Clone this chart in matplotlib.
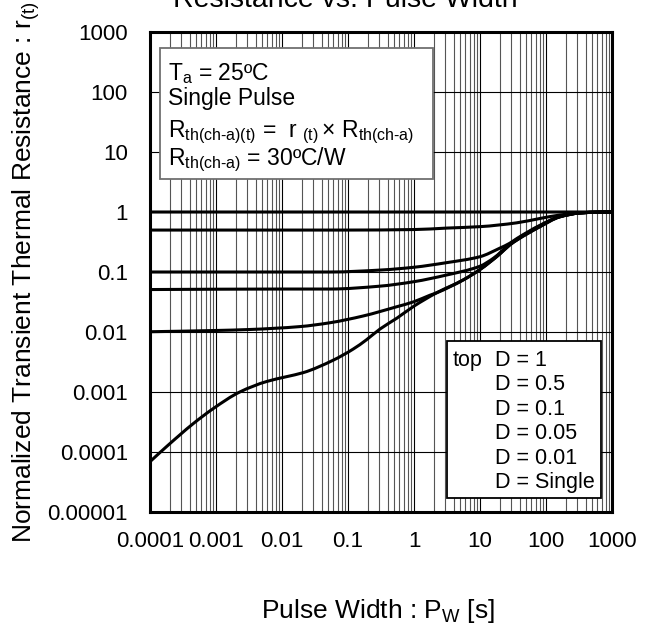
import matplotlib
matplotlib.use('Agg')
import numpy as np
import matplotlib.pyplot as plt
from matplotlib.patches import Rectangle, PathPatch
from matplotlib.path import Path
from matplotlib.ticker import LogLocator, NullLocator

plt.rcParams['font.family'] = ['Liberation Sans', 'DejaVu Sans']
plt.rcParams['mathtext.fontset'] = 'custom'
plt.rcParams['mathtext.rm'] = 'Liberation Sans'
plt.rcParams['mathtext.it'] = 'Liberation Sans'
plt.rcParams['mathtext.bf'] = 'Liberation Sans'
plt.rcParams['mathtext.default'] = 'regular'

# ---------------- data ----------------
x_d1 = [1e-4, 1000]
r_d1 = [1.0, 1.0]

x_d05 = [1e-4, 0.1, 1, 3.2, 10, 36, 81, 162, 330, 630, 1000]
r_d05 = [0.5, 0.5, 0.51, 0.54, 0.57, 0.66, 0.78, 0.89, 0.965, 0.995, 1.0]

x_d01 = [1e-4, 0.054, 0.32, 1, 3.1, 10, 20, 28, 36, 81, 162, 330, 630, 1000]
r_d01 = [0.1, 0.1, 0.108, 0.12, 0.143, 0.18, 0.25, 0.30, 0.36, 0.60, 0.84, 0.965, 0.995, 1.0]

x_d005 = [1e-4, 0.01, 0.054, 0.30, 1, 3.1, 10, 16, 28, 36, 81, 162, 330, 630, 1000]
r_d005 = [0.051, 0.052, 0.052, 0.058, 0.069, 0.089, 0.125, 0.17, 0.29, 0.35, 0.59, 0.84, 0.965, 0.995, 1.0]

x_d001 = [1e-4, 1e-3, 3.2e-3, 0.0186, 0.054, 0.17, 0.55, 1, 1.74, 2.2, 5.6, 10, 20, 28, 36, 81, 162, 330, 630, 1000]
r_d001 = [0.0101, 0.0106, 0.011, 0.0123, 0.0143, 0.0185, 0.0264, 0.032, 0.041, 0.045, 0.074, 0.11, 0.2, 0.28, 0.34, 0.57, 0.83, 0.965, 0.995, 1.0]

x_single = [1e-4, 1.78e-4, 4.57e-4, 9.1e-4, 2.29e-3, 5.9e-3, 0.0117, 0.0209, 0.060, 0.120,
            0.19, 0.305, 0.55, 1, 2.2, 5.6, 10, 20, 28, 36, 81, 162, 330, 630, 1000]
r_single = [6.9e-5, 1.23e-4, 3.0e-4, 5.3e-4, 1.0e-3, 1.5e-3, 1.8e-3, 2.1e-3, 3.4e-3, 5.2e-3,
            7.4e-3, 0.0112, 0.017, 0.027, 0.045, 0.074, 0.11, 0.2, 0.28, 0.34, 0.57, 0.83, 0.965, 0.995, 1.0]

xticks = [1e-4, 1e-3, 1e-2, 1e-1, 1, 10, 100, 1000]
xtick_labels = ['0.0001', '0.001', '0.01', '0.1', '1', '10', '100', '1000']
yticks = [1e-5, 1e-4, 1e-3, 1e-2, 1e-1, 1, 10, 100, 1000]
ytick_labels = ['0.00001', '0.0001', '0.001', '0.01', '0.1', '1', '10', '100', '1000']

legend_lines = ['D = 1', 'D = 0.5', 'D = 0.1', 'D = 0.05', 'D = 0.01', 'D = Single']


def smooth_path(xs, ys):
    """Smooth (monotone cubic) Bezier path through the points, built in log space."""
    lx = np.log10(np.asarray(xs, float))
    ly = np.log10(np.asarray(ys, float))
    n = len(lx)
    h = np.diff(lx)
    d = np.diff(ly) / h
    m = np.zeros(n)
    m[0] = d[0]
    m[-1] = d[-1]
    for k in range(1, n - 1):
        if d[k - 1] * d[k] <= 0:
            m[k] = 0.0
        else:
            w1 = 2 * h[k] + h[k - 1]
            w2 = h[k] + 2 * h[k - 1]
            m[k] = (w1 + w2) / (w1 / d[k - 1] + w2 / d[k])
    verts = [(lx[0], ly[0])]
    codes = [Path.MOVETO]
    for k in range(n - 1):
        verts += [(lx[k] + h[k] / 3, ly[k] + m[k] * h[k] / 3),
                  (lx[k + 1] - h[k] / 3, ly[k + 1] - m[k + 1] * h[k] / 3),
                  (lx[k + 1], ly[k + 1])]
        codes += [Path.CURVE4] * 3
    verts = 10 ** np.asarray(verts)
    return Path(verts, codes)


# ---------------- figure ----------------
W, H = 647, 628
fig = plt.figure(figsize=(W / 100, H / 100), dpi=100)
ax = fig.add_axes([150 / W, 1 - 512 / H, 462 / W, 480 / H])

ax.set_xscale('log')
ax.set_yscale('log')
ax.set_xlim(1e-4, 1000)
ax.set_ylim(1e-5, 1000)

series = [(x_d1, r_d1), (x_d05, r_d05), (x_d01, r_d01), (x_d005, r_d005),
          (x_d001, r_d001), (x_single, r_single)]
for xs, ys in series:
    ax.add_patch(PathPatch(smooth_path(xs, ys), fill=False, ec='black', lw=2.2,
                           joinstyle='round', capstyle='butt', zorder=3))

ax.set_xticks(xticks, xtick_labels)
ax.set_yticks(yticks, ytick_labels)
ax.xaxis.set_minor_locator(LogLocator(base=10, subs=[2, 3, 4, 5, 6, 7, 8, 9], numticks=20))
ax.yaxis.set_minor_locator(NullLocator())
ax.xaxis.set_minor_formatter(plt.NullFormatter())
ax.grid(which='major', axis='both', color='black', lw=0.8, zorder=1)
ax.grid(which='minor', axis='x', color='#555555', lw=0.8, zorder=1)
ax.set_axisbelow(True)
ax.tick_params(which='both', length=0, labelsize=16)
ax.tick_params(axis='x', pad=14)
ax.tick_params(axis='y', pad=16)
for sp in ax.spines.values():
    sp.set_linewidth(2.2)
    sp.set_zorder(4)


# ---- info box ----
def px(x, y):
    return x / W, 1 - y / H


bx0, by0, bx1, by1 = 160, 48, 433, 179
fig.add_artist(Rectangle(px(bx0, by1), (bx1 - bx0) / W, (by1 - by0) / H,
                         transform=fig.transFigure, fc='white', ec='#707070', lw=1.3, zorder=5))
info = [
    (80, 'T$_{a}$ = 25ºC'),
    (105, 'Single Pulse'),
    (136.7, r'R$_{\text{th(ch-a)(t)}}$ =  r$_{\ \,(t)}$$\,$× R$_{\text{th(ch-a)}}$'),
    (165, r'R$_{\text{th(ch-a)}}$ = 30ºC/W'),
]
for yb, t in info:
    fig.text(*px(168, yb), t, fontsize=16.5, ha='left', va='baseline', zorder=6)

# ---- legend box ----
lx0, ly0, lx1, ly1 = 447, 341, 601, 498
fig.add_artist(Rectangle(px(lx0, ly1), (lx1 - lx0) / W, (ly1 - ly0) / H,
                         transform=fig.transFigure, fc='white', ec='black', lw=1.3, zorder=5))
fig.text(*px(453, 366), 'top', fontsize=15.5, ha='left', va='baseline', zorder=6)
for i, t in enumerate(legend_lines):
    fig.text(*px(495, 366 + 24.4 * i), t, fontsize=15.5, ha='left', va='baseline', zorder=6)

# ---- titles / labels ----
fig.text(*px(345, 7), 'Resistance vs. Pulse Width', fontsize=20.5, ha='center', va='baseline')
fig.text(*px(26, 272), 'Normalized Transient Thermal Resistance : r$_{(t)}$',
         fontsize=19, rotation=90, ha='center', va='center')
fig.text(*px(378, 618), 'Pulse Width : P$_{W}$ [s]', fontsize=19, ha='center', va='baseline')

fig.savefig('out.png', dpi=100)
